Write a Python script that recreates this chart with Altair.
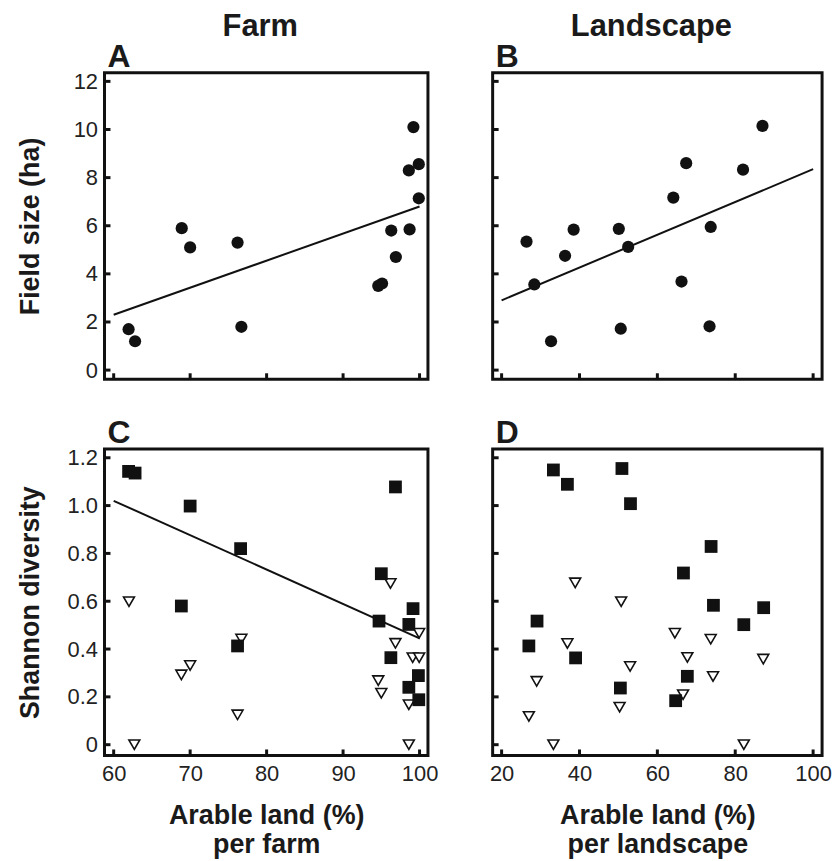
import altair as alt
import pandas as pd

FONT = "Liberation Sans"

# Panel A: farm-level arable land vs. mean field size
farm_x = [61.95, 62.8, 68.9, 70.0, 76.2, 76.7, 94.6, 95.1, 96.3, 96.9, 98.6, 98.7, 99.2, 99.9, 99.9]
farm_field = [1.7, 1.2, 5.9, 5.1, 5.3, 1.8, 3.5, 3.6, 5.8, 4.7, 8.3, 5.85, 10.1, 8.56, 7.14]
farm_fit_x = [60, 100]
farm_fit_y = [2.3, 6.8]

# Panel B: landscape-level arable land vs. mean field size
land_x = [26.4, 28.4, 32.7, 36.3, 38.5, 50.1, 50.6, 52.5, 64.1, 66.2, 67.4, 73.4, 73.7, 82.0, 87.0]
land_field = [5.34, 3.56, 1.2, 4.75, 5.84, 5.87, 1.72, 5.12, 7.17, 3.68, 8.6, 1.82, 5.95, 8.33, 10.15]
land_fit_x = [20, 100]
land_fit_y = [2.9, 8.35]

# Panel C: farm-level Shannon diversity (squares and triangles)
farm_sq_x = [61.95, 62.8, 70.0, 76.6, 68.85, 76.2, 96.85, 95.0, 94.7, 99.15, 98.6, 96.25, 99.85, 98.6, 99.9]
farm_sq_y = [1.143, 1.136, 0.998, 0.82, 0.58, 0.413, 1.078, 0.715, 0.517, 0.569, 0.503, 0.364, 0.289, 0.24, 0.188]
farm_tri_x = [62.0, 62.7, 68.85, 70.0, 76.2, 76.7, 96.2, 94.6, 95.0, 96.85, 98.6, 98.6, 99.1, 99.95, 99.95]
farm_tri_y = [0.598, 0.0, 0.292, 0.331, 0.125, 0.442, 0.674, 0.268, 0.215, 0.424, 0.167, 0.0, 0.364, 0.364, 0.466]
farm_div_fit_x = [60, 100]
farm_div_fit_y = [1.02, 0.445]

# Panel D: landscape-level Shannon diversity
land_sq_x = [33.3, 36.9, 50.9, 53.1, 73.8, 66.7, 74.4, 87.3, 82.2, 29.1, 27.0, 39.0, 50.5, 67.7, 64.7]
land_sq_y = [1.149, 1.089, 1.155, 1.008, 0.829, 0.718, 0.583, 0.573, 0.502, 0.517, 0.413, 0.363, 0.237, 0.286, 0.184]
land_tri_x = [38.9, 50.7, 36.9, 29.0, 27.0, 33.3, 53.0, 50.3, 64.5, 67.7, 66.6, 73.7, 74.3, 87.2, 82.2]
land_tri_y = [0.677, 0.598, 0.423, 0.265, 0.118, 0.0, 0.327, 0.157, 0.466, 0.365, 0.209, 0.441, 0.285, 0.358, 0.0]

# Axis ticks
farm_ticks = [60, 70, 80, 90, 100]
land_ticks = [20, 40, 60, 80, 100]
field_ticks = [0, 2, 4, 6, 8, 10, 12]
div_ticks = [0, 0.2, 0.4, 0.6, 0.8, 1.0, 1.2]

FARM_DOMAIN = [58.8, 101.1]
LAND_DOMAIN = [17.7, 102.3]
FIELD_DOMAIN = [-0.38, 12.36]
DIV_DOMAIN = [-0.045, 1.237]

H = 308
TICK_LEN = 6
INK = "#111"


def x_enc(domain, ticks, title=None, labels=False):
    axis = None
    if labels:
        axis = alt.Axis(values=ticks, ticks=False, domain=False, grid=False,
                        labelPadding=8, labelFontSize=22, labelFont=FONT,
                        labelColor="#222", title=title, titleFont=FONT,
                        titleFontSize=27, titleFontWeight="bold",
                        titleColor="#1a1a1a", titlePadding=18, titleLineHeight=30)
    return alt.X("x:Q", scale=alt.Scale(domain=domain, nice=False, zero=False), axis=axis)


def y_enc(domain, ticks, title=None, labels=False, fmt=None):
    axis = None
    if labels:
        kw = dict(values=ticks, ticks=False, domain=False, grid=False,
                  labelPadding=7, labelFontSize=22, labelFont=FONT,
                  labelColor="#222", title=title, titleFont=FONT,
                  titleFontSize=27, titleFontWeight="bold", titleColor="#1a1a1a",
                  titleBaseline="alphabetic", titleX=-66, titleY=H / 2)
        if fmt:
            kw["labelExpr"] = fmt
        axis = alt.Axis(**kw)
    return alt.Y("y:Q", scale=alt.Scale(domain=domain, nice=False, zero=False), axis=axis)


def build(width, xe, ye, xticks, yticks, marks, letter, header=None):
    parts = list(marks)
    # inward ticks on the left edge
    parts.append(
        alt.Chart(pd.DataFrame({"y": yticks})).mark_rule(color=INK, strokeWidth=3)
        .encode(y=ye, x=alt.value(0), x2=alt.value(TICK_LEN))
    )
    # inward ticks on the bottom edge
    parts.append(
        alt.Chart(pd.DataFrame({"x": xticks})).mark_rule(color=INK, strokeWidth=3)
        .encode(x=xe, y=alt.value(H), y2=alt.value(H - TICK_LEN))
    )
    # panel letter
    parts.append(
        alt.Chart(pd.DataFrame({"t": [letter]})).mark_text(
            align="left", baseline="alphabetic", font=FONT, fontSize=32,
            fontWeight="bold", color="#1a1a1a")
        .encode(text="t:N", x=alt.value(3), y=alt.value(-6))
    )
    # column heading
    if header:
        parts.append(
            alt.Chart(pd.DataFrame({"t": [header]})).mark_text(
                align="center", baseline="alphabetic", font=FONT, fontSize=31,
                fontWeight="bold", color="#1a1a1a")
            .encode(text="t:N", x=alt.value(width / 2 - 6), y=alt.value(-37))
        )
    return alt.layer(*parts).properties(width=width, height=H)


def dots(xs, ys, xe, ye):
    return alt.Chart(pd.DataFrame({"x": xs, "y": ys})).mark_point(
        shape="circle", filled=True, size=150, color=INK, opacity=1
    ).encode(x=xe, y=ye)


def squares(xs, ys, xe, ye):
    return alt.Chart(pd.DataFrame({"x": xs, "y": ys})).mark_point(
        shape="square", filled=True, size=165, color=INK, opacity=1
    ).encode(x=xe, y=ye)


def triangles(xs, ys, xe, ye):
    return alt.Chart(pd.DataFrame({"x": xs, "y": ys})).mark_point(
        shape="triangle-down", filled=True, size=120, fill="white",
        stroke=INK, strokeWidth=1.6, opacity=1
    ).encode(x=xe, y=ye)


def fit(xs, ys, xe, ye):
    return alt.Chart(pd.DataFrame({"x": xs, "y": ys})).mark_line(
        color=INK, strokeWidth=2
    ).encode(x=xe, y=ye)


div_fmt = "datum.value == 0 ? '0' : format(datum.value, '.1f')"

# A
xa = x_enc(FARM_DOMAIN, farm_ticks)
ya = y_enc(FIELD_DOMAIN, field_ticks, title="Field size (ha)", labels=True)
chart_a = build(325, xa, ya, farm_ticks, field_ticks,
                [fit(farm_fit_x, farm_fit_y, xa, ya), dots(farm_x, farm_field, xa, ya)],
                "A", "Farm")

# B
xb = x_enc(LAND_DOMAIN, land_ticks)
yb = y_enc(FIELD_DOMAIN, field_ticks)
chart_b = build(331, xb, yb, land_ticks, field_ticks,
                [fit(land_fit_x, land_fit_y, xb, yb), dots(land_x, land_field, xb, yb)],
                "B", "Landscape")

# C
xc = x_enc(FARM_DOMAIN, farm_ticks, title=["Arable land (%)", "per farm"], labels=True)
yc = y_enc(DIV_DOMAIN, div_ticks, title="Shannon diversity", labels=True, fmt=div_fmt)
chart_c = build(325, xc, yc, farm_ticks, div_ticks,
                [fit(farm_div_fit_x, farm_div_fit_y, xc, yc),
                 triangles(farm_tri_x, farm_tri_y, xc, yc),
                 squares(farm_sq_x, farm_sq_y, xc, yc)],
                "C")

# D
xd = x_enc(LAND_DOMAIN, land_ticks, title=["Arable land (%)", "per landscape"], labels=True)
yd = y_enc(DIV_DOMAIN, div_ticks)
chart_d = build(331, xd, yd, land_ticks, div_ticks,
                [triangles(land_tri_x, land_tri_y, xd, yd),
                 squares(land_sq_x, land_sq_y, xd, yd)],
                "D")

# columns are spaced by their plot areas, ignoring axis labels
chart = alt.vconcat(
    alt.hconcat(chart_a, chart_b, spacing=65, bounds="flush"),
    alt.hconcat(chart_c, chart_d, spacing=65, bounds="flush"),
    spacing=32,
).properties(
    padding={"left": 15, "top": 7, "right": 5, "bottom": 0},
    background="white",
).configure_view(
    stroke=INK, strokeWidth=3
)

chart.save("out.html", embed_options={"renderer": "svg", "actions": False})
